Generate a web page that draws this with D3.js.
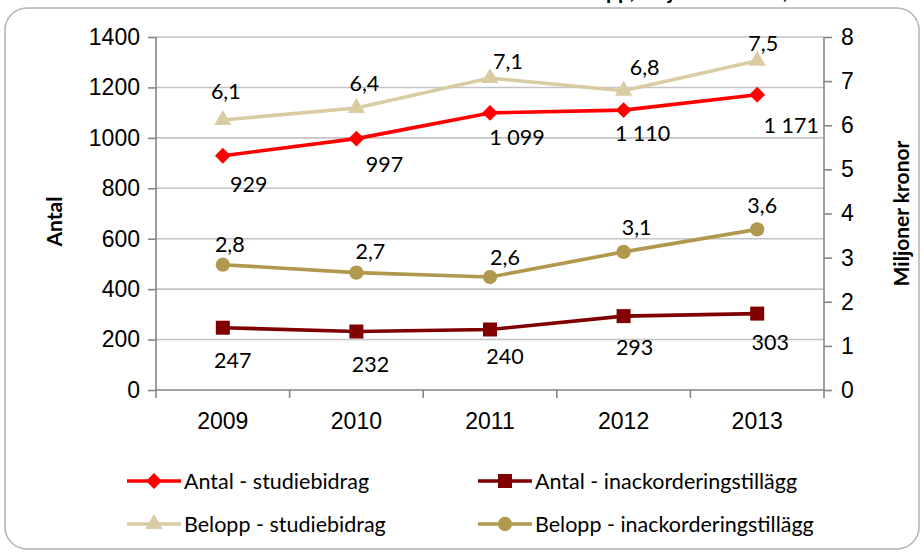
<!DOCTYPE html>
<html lang="sv">
<head>
<meta charset="UTF-8">
<script src="https://d3js.org/d3.v7.min.js"></script>
<style>
  body { margin: 0; background: #fff; }
  svg { display: block; font-family: Lato, "Open Sans", sans-serif; }
  .tick text { fill: #000; }
</style>
</head>
<body>
<div id="chart"></div>
<script>
// data
const years = ["2009", "2010", "2011", "2012", "2013"];
const antalStudiebidrag = [929, 997, 1099, 1110, 1171];
const antalInackordering = [247, 232, 240, 293, 303];
const beloppStudiebidrag = [6.12, 6.39, 7.07, 6.78, 7.46];
const beloppInackordering = [2.84, 2.66, 2.56, 3.13, 3.64];
const leftTicks = [0, 200, 400, 600, 800, 1000, 1200, 1400];
const rightTicks = [0, 1, 2, 3, 4, 5, 6, 7, 8];

const W = 924, H = 554;
const plot = { left: 156, right: 824, top: 37, bottom: 390 };

const sv = d3.formatLocale({ decimal: ",", thousands: "\u00a0", grouping: [3], currency: ["", " kr"] });
const fmtAntal = sv.format(",d");
const fmtBelopp = sv.format(".1f");

const svg = d3.select("#chart").append("svg")
    .attr("width", W)
    .attr("height", H);

// title sits above the frame and is cut off in the original too
const title = svg.append("text")
    .attr("y", -1)
    .attr("font-weight", "bold")
    .attr("font-size", 21)
    .text("Antal och belopp, miljoner kronor, 2009–2013");
const idx = title.text().indexOf("pp,");
const off = title.node().getSubStringLength(0, idx);
title.attr("x", 606 - off);

// chart frame
svg.append("rect")
    .attr("x", 5).attr("y", 8)
    .attr("width", 914).attr("height", 541)
    .attr("rx", 22)
    .attr("fill", "#fff")
    .attr("stroke", "#b3b3b3")
    .attr("stroke-width", 1.5);

const x = d3.scaleBand().domain(years).range([plot.left, plot.right]);
const yL = d3.scaleLinear().domain([0, 1400]).range([plot.bottom, plot.top]);
const yR = d3.scaleLinear().domain([0, 8]).range([plot.bottom, plot.top]);
const cx = d => x(d) + x.bandwidth() / 2;

// gridlines
svg.append("g")
    .selectAll("line")
    .data(leftTicks.filter(d => d > 0))
    .join("line")
    .attr("x1", plot.left).attr("x2", plot.right)
    .attr("y1", d => yL(d)).attr("y2", d => yL(d))
    .attr("stroke", "#c4c4c4")
    .attr("stroke-width", 1.6);

const axisColor = "#868686";

// left axis
const gL = svg.append("g")
    .attr("transform", `translate(${plot.left},0)`)
    .call(d3.axisLeft(yL).tickValues(leftTicks).tickSize(8).tickPadding(8).tickFormat(d3.format("d")));
gL.selectAll("text").attr("font-size", 23);

// right axis
const gR = svg.append("g")
    .attr("transform", `translate(${plot.right},0)`)
    .call(d3.axisRight(yR).tickValues(rightTicks).tickSize(8).tickPadding(9));
gR.selectAll("text").attr("font-size", 23);

// bottom axis, ticks between categories
const gB = svg.append("g")
    .attr("transform", `translate(0,${plot.bottom})`)
    .call(d3.axisBottom(x).tickSize(0).tickPadding(23));
gB.selectAll("text").attr("font-size", 23);
gB.selectAll(".tick line").remove();
gB.selectAll("line.sep")
    .data(years.map(d => x(d)).concat([plot.right]))
    .join("line")
    .attr("class", "sep")
    .attr("x1", d => d).attr("x2", d => d)
    .attr("y1", 0).attr("y2", 8);

[gL, gR, gB].forEach(g => {
    g.selectAll(".domain").attr("stroke", axisColor).attr("stroke-width", 1.6);
    g.selectAll("line").attr("stroke", axisColor).attr("stroke-width", 1.6);
});
gL.select(".domain").attr("d", `M0,${plot.top}V${plot.bottom}`);
gR.select(".domain").attr("d", `M0,${plot.top}V${plot.bottom}`);
gB.select(".domain").attr("d", `M${plot.left},0H${plot.right}`);

// axis titles
svg.append("text")
    .attr("transform", `translate(62,${(plot.top + plot.bottom) / 2 + 8}) rotate(-90)`)
    .attr("text-anchor", "middle")
    .attr("font-weight", "bold")
    .attr("font-size", 21)
    .text("Antal");
svg.append("text")
    .attr("transform", `translate(909,${(plot.top + plot.bottom) / 2}) rotate(-90)`)
    .attr("text-anchor", "middle")
    .attr("font-weight", "bold")
    .attr("font-size", 21)
    .text("Miljoner kronor");

const diamond = d3.symbol().type(d3.symbolSquare).size(125)();
const series = [
    { name: "Belopp - studiebidrag", values: beloppStudiebidrag, y: yR, fmt: fmtBelopp,
      color: "#d9cca3", symbol: d3.symbol().type(d3.symbolTriangle).size(130)(), rot: 0,
      dx: [3, 8, 18, 21, 6], dy: [-28, -25, -17, -23, -17] },
    { name: "Belopp - inackorderingstillägg", values: beloppInackordering, y: yR, fmt: fmtBelopp,
      color: "#b0994f", symbol: d3.symbol().type(d3.symbolCircle).size(160)(), rot: 0,
      dx: [7, 14, 15, 13, 5], dy: [-20, -21, -20, -24, -24] },
    { name: "Antal - inackorderingstillägg", values: antalInackordering, y: yL, fmt: fmtAntal,
      color: "#800000", symbol: d3.symbol().type(d3.symbolSquare).size(196)(), rot: 0,
      dx: [10, 14, 15, 11, 13], dy: [33, 33, 27, 31, 29] },
    { name: "Antal - studiebidrag", values: antalStudiebidrag, y: yL, fmt: fmtAntal,
      color: "#ff0000", symbol: diamond, rot: 45,
      dx: [26, 28, 27, 19, 34], dy: [29, 26, 25, 23, 31] }
];

series.forEach(s => {
    const pts = s.values.map((v, i) => [cx(years[i]), s.y(v)]);
    svg.append("path")
        .attr("d", d3.line()(pts))
        .attr("fill", "none")
        .attr("stroke", s.color)
        .attr("stroke-width", 3.6)
        .attr("stroke-linejoin", "round");
    svg.append("g").selectAll("path")
        .data(pts)
        .join("path")
        .attr("d", s.symbol)
        .attr("transform", d => `translate(${d[0]},${d[1]}) rotate(${s.rot})`)
        .attr("fill", s.color);
    svg.append("g").selectAll("text")
        .data(s.values)
        .join("text")
        .attr("x", (v, i) => cx(years[i]) + s.dx[i])
        .attr("y", (v, i) => s.y(v) + s.dy[i])
        .attr("dy", "0.35em")
        .attr("text-anchor", "middle")
        .attr("font-size", 21.5)
        .text(v => s.fmt(v));
});

// legend
const legendItems = [
    { s: series[3], x: 127, y: 481 },
    { s: series[2], x: 478, y: 481 },
    { s: series[0], x: 127, y: 524 },
    { s: series[1], x: 478, y: 524 }
];
const lg = svg.append("g").selectAll("g")
    .data(legendItems)
    .join("g")
    .attr("transform", d => `translate(${d.x},${d.y})`);
lg.append("line")
    .attr("x1", 0).attr("x2", 54)
    .attr("stroke", d => d.s.color)
    .attr("stroke-width", 3.6);
lg.append("path")
    .attr("d", d => d.s.symbol)
    .attr("transform", d => `translate(27,0) rotate(${d.s.rot})`)
    .attr("fill", d => d.s.color);
lg.append("text")
    .attr("x", 57)
    .attr("dy", "0.35em")
    .attr("font-size", 21.5)
    .text(d => d.s.name);
</script>
</body>
</html>
